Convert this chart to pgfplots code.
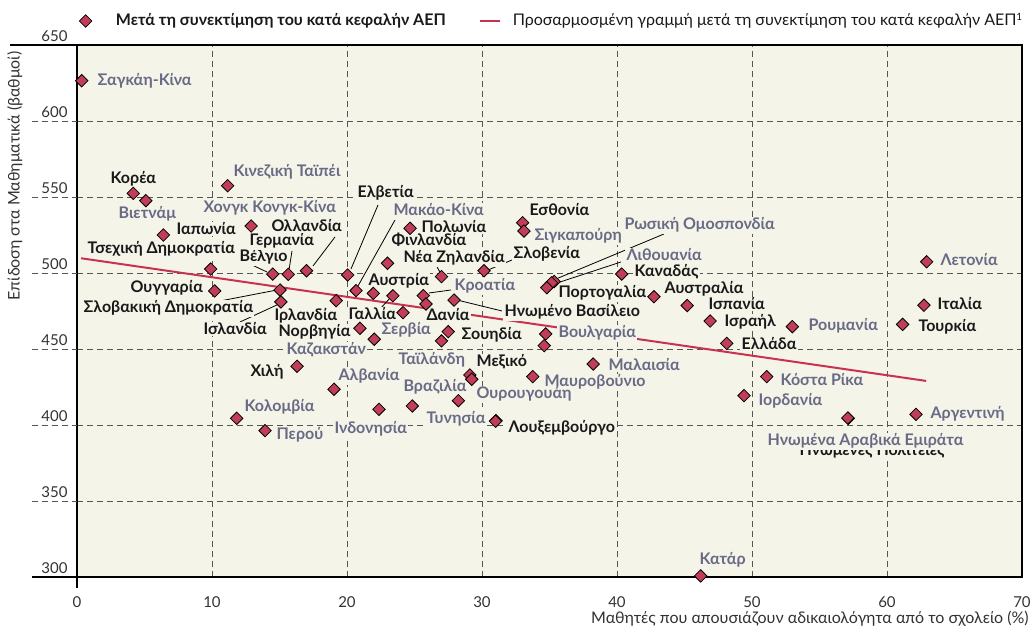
\documentclass[border=0pt]{standalone}
\usepackage{fontspec}
\setmainfont{Lato}
\usepackage{pgfplots}
\pgfplotsset{compat=1.18}
\pgfplotsset{shortline/.style={legend image code/.code={\draw[##1] (0pt,0pt) -- (10pt,0pt);}}}
\definecolor{bg}{RGB}{245,244,233}
\definecolor{mk}{RGB}{192,62,88}
\definecolor{fitc}{RGB}{200,50,80}
\definecolor{gl}{RGB}{104,106,134}
\definecolor{bk}{RGB}{25,25,25}
\definecolor{gridc}{RGB}{85,85,85}
\definecolor{tk}{RGB}{50,50,50}
\newcommand\lab[4]{\node[lbl,text=#1] at (#2,{#3+5}) {#4};}
\begin{document}
\begin{tikzpicture}
\useasboundingbox (-38.5pt,-27pt) rectangle (476.5pt,288.5pt);
\begin{axis}[
  at={(0,0)}, anchor=south west,
  scale only axis, width=472.5pt, height=266pt,
  xmin=0, xmax=70, ymin=300, ymax=650,
  xtick={0,10,...,70}, ytick={300,350,...,650},
  axis background/.style={fill=bg},
  grid=major,
  major grid style={gridc, dash pattern=on 3pt off 2pt, line width=0.4pt},
  axis line style={line width=0.7pt, black},
  major tick length=0pt,
  /pgf/number format/assume math mode=true,
  tick label style={font=\fontsize{7.5}{9}\selectfont, text=tk},
  yticklabel style={anchor=south east, inner sep=0pt, xshift=-4.5pt, yshift=1.5pt},
  xticklabel style={anchor=center, inner sep=0pt, yshift=-12.5pt},
]
\addplot[fitc, line width=1pt] coordinates {(0.3,509.7) (62.9,429)};
\end{axis}
% extensions of grid lines to the left
\foreach \yy in {38,76,114,152,190,228} {
  \draw[gridc, dash pattern=on 3pt off 2pt, line width=0.4pt] (-22.5pt,\yy pt) -- (0pt,\yy pt);
}
\draw[black, line width=0.7pt] (-22.5pt,0pt) -- (0pt,0pt);
\draw[black, line width=0.7pt] (-33.5pt,266pt) -- (0pt,266pt);
\draw[black, line width=0.7pt] (0pt,0pt) -- (0pt,-5.5pt);
\begin{scope}[x=0.5pt, y=-0.5pt, shift={(-38.5pt,288.5pt)},
  lbl/.style={anchor=base west, inner sep=0.6pt, fill=bg, font=\bfseries\fontsize{8}{9.6}\selectfont},
  ldr/.style={black, line width=0.4pt}]
% axis titles
\node[rotate=90, text=tk, font=\fontsize{8}{9.6}\selectfont] at (15,176) {Επίδοση στα Μαθηματικά (βαθμοί)};
\node[anchor=base east, text=tk, inner sep=0pt, font=\fontsize{8}{9.6}\selectfont] at (1029,624) {Μαθητές που απουσιάζουν αδικαιολόγητα από το σχολείο (\%)};
% leader lines
\draw[ldr] (252,265) -- (267,272);
\draw[ldr] (292,251) -- (289,270);
\draw[ldr] (335,237) -- (313,266);
\draw[ldr] (220,301) -- (277,290);
\draw[ldr] (240,322) -- (279,304);
\draw[ldr] (378,205) -- (351,269);
\draw[ldr] (395,220) -- (358,286);
\draw[ldr] (436,265) -- (441,274);
\draw[ldr] (380,309) -- (391,297);
\draw[ldr] (451,290) -- (429,293);
\draw[ldr] (502,311) -- (457,300);
\draw[ldr] (512,260) -- (488,270);
\draw[ldr] (664,234) -- (556,279);
\draw[ldr] (621,262) -- (557,283);
% labels
\lab{gl}{96}{81}{Σαγκάη-Κίνα}
\lab{bk}{109}{179}{Κορέα}
\lab{gl}{117}{214}{Βιετνάμ}
\lab{bk}{175}{230}{Ιαπωνία}
\lab{gl}{232}{172}{Κινεζική Ταϊπέι}
\lab{gl}{202}{208}{Χονγκ Κονγκ-Κίνα}
\lab{bk}{86}{249}{Τσεχική Δημοκρατία}
\lab{bk}{238}{257}{Βέλγιο}
\lab{bk}{248}{241}{Γερμανία}
\lab{bk}{270}{227}{Ολλανδία}
\lab{bk}{129}{288}{Ουγγαρία}
\lab{bk}{82}{308}{Σλοβακική Δημοκρατία}
\lab{bk}{202}{330}{Ισλανδία}
\lab{bk}{273}{316}{Ιρλανδία}
\lab{bk}{277}{332}{Νορβηγία}
\lab{gl}{285}{350}{Καζακστάν}
\lab{bk}{249}{372}{Χιλή}
\lab{bk}{356}{193}{Ελβετία}
\lab{gl}{392}{211}{Μακάο-Κίνα}
\lab{bk}{420}{228}{Πολωνία}
\lab{bk}{390}{241}{Φινλανδία}
\lab{bk}{402}{258}{Νέα Ζηλανδία}
\lab{bk}{367}{281}{Αυστρία}
\lab{bk}{347}{315}{Γαλλία}
\lab{gl}{453}{286}{Κροατία}
\lab{bk}{425}{316}{Δανία}
\lab{bk}{503}{312}{Ηνωμένο Βασίλειο}
\lab{gl}{380}{330}{Σερβία}
\lab{bk}{460}{335}{Σουηδία}
\lab{bk}{528}{211}{Εσθονία}
\lab{gl}{533}{236}{Σιγκαπούρη}
\lab{bk}{512}{254}{Σλοβενία}
\lab{gl}{623}{225}{Ρωσική Ομοσπονδία}
\lab{gl}{625}{256}{Λιθουανία}
\lab{bk}{633}{272}{Καναδάς}
\lab{bk}{557}{293}{Πορτογαλία}
\lab{gl}{557}{333}{Βουλγαρία}
\lab{bk}{663}{289}{Αυστραλία}
\lab{bk}{707}{305}{Ισπανία}
\lab{bk}{723}{322}{Ισραήλ}
\lab{bk}{740}{345}{Ελλάδα}
\lab{gl}{807}{326}{Ρουμανία}
\lab{gl}{939}{261}{Λετονία}
\lab{bk}{936}{305}{Ιταλία}
\lab{bk}{917}{327}{Τουρκία}
\lab{gl}{779}{381}{Κόστα Ρίκα}
\lab{gl}{757}{401}{Ιορδανία}
\lab{gl}{929}{414}{Αργεντινή}
\lab{bk}{798}{451}{Ηνωμένες Πολιτείες}
\lab{gl}{766}{441}{Ηνωμένα Αραβικά Εμιράτα}
\lab{gl}{698}{560}{Κατάρ}
\lab{gl}{607}{366}{Μαλαισία}
\lab{gl}{543}{382}{Μαυροβούνιο}
\lab{gl}{397}{360}{Ταϊλάνδη}
\lab{bk}{475}{362}{Μεξικό}
\lab{gl}{475}{394}{Ουρουγουάη}
\lab{gl}{402}{387}{Βραζιλία}
\lab{gl}{425}{419}{Τυνησία}
\lab{bk}{507}{428}{Λουξεμβούργο}
\lab{gl}{333}{429}{Ινδονησία}
\lab{gl}{337}{376}{Αλβανία}
\lab{gl}{243}{407}{Κολομβία}
\lab{gl}{275}{435}{Περού}
\end{scope}
\begin{axis}[
  at={(0,0)}, anchor=south west,
  scale only axis, width=472.5pt, height=266pt,
  xmin=0, xmax=70, ymin=300, ymax=650,
  hide axis, clip=false,
  legend columns=2,
  legend style={draw=none, fill=none, at={(axis description cs:0,1)}, anchor=west,
    xshift=-2pt, yshift=12pt, font=\fontsize{8}{9.6}\selectfont, text=bk,
    /tikz/column 1/.style={column sep=10pt},
    /tikz/column 2/.style={column sep=14.5pt},
    /tikz/column 3/.style={column sep=4pt}},
]
\addplot[only marks, mark=square*, mark size=2.2pt,
  mark options={rotate=45, fill=mk, draw=black, line width=0.4pt}] table {
x y
0.35 626.5
4.17 552.4
5.1 547.6
6.4 525
11.16 557.4
12.9 530.9
9.9 502.6
10.2 488.2
14.5 499.3
15.65 499.1
17.0 501.5
15.04 488.8
15.1 481
19.2 481.8
20.05 498.7
20.67 488.4
21.95 486.6
23.4 485
24.15 473.9
23.0 506.4
24.67 529.4
27.0 497.6
25.65 485.1
25.85 479.6
27.93 482.2
20.96 463.6
22.02 456.4
27.5 461.4
27.0 455.3
16.3 438.6
19.04 423.5
22.37 410.3
24.84 412.5
28.25 416
29.1 432.9
29.24 430.1
31.04 402.8
31.0 402.5
11.83 404.4
13.93 396.3
33.01 533.1
33.11 527.6
30.15 501.5
35.35 494.4
35.15 493.5
34.8 490.3
40.35 499.3
42.74 484.4
45.2 478.6
46.9 468.4
48.13 453.7
52.99 464.7
62.94 507.4
62.74 478.8
61.16 466.2
51.09 431.8
49.41 419.3
57.13 404.4
57.1 404.6
62.15 407
46.2 300.7
38.24 440.1
33.76 431.8
34.72 459.9
34.61 452.2
};
\addlegendentry{\textbf{Μετά τη συνεκτίμηση του κατά κεφαλήν ΑΕΠ}}
\addlegendimage{fitc, line width=1pt, shortline}
\addlegendentry{Προσαρμοσμένη γραμμή μετά τη συνεκτίμηση του κατά κεφαλήν ΑΕΠ\textsuperscript{\fontsize{5}{6}\selectfont 1}}
\end{axis}
\end{tikzpicture}
\end{document}
